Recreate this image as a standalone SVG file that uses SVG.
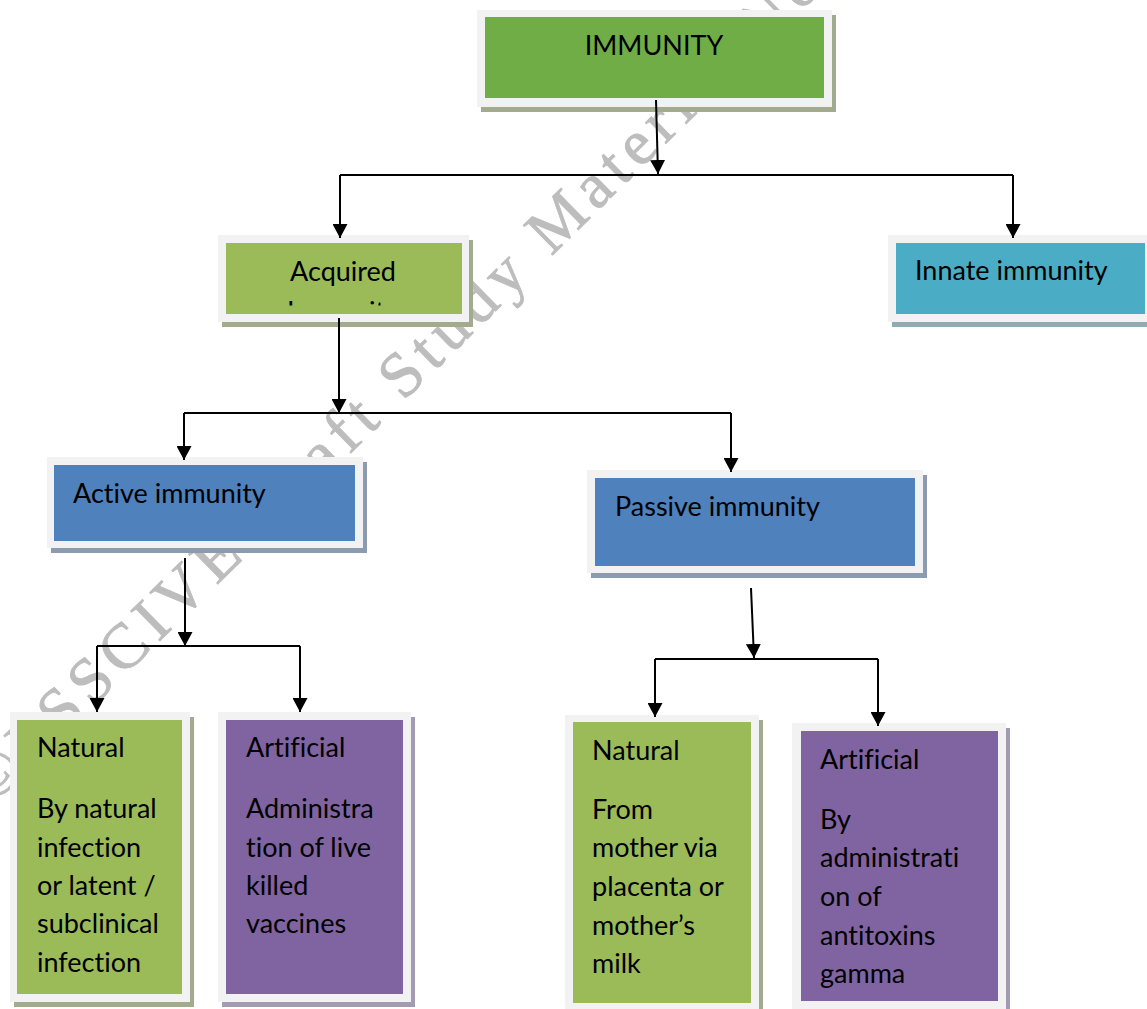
<svg xmlns="http://www.w3.org/2000/svg" width="1147" height="1009" viewBox="0 0 1147 1009">
<style>
.frame{fill:#f2f2f2}
.t{font-family:Lato,"Liberation Sans",sans-serif;font-size:27px;fill:#000;font-variant-ligatures:none}
.wm{font-family:"Liberation Serif",serif;font-size:64px;letter-spacing:7px;fill:#bdbdbd;stroke:#bdbdbd;stroke-width:0.9}
.c{fill:none;stroke:#000;stroke-width:2}
.sg{fill:#a2ab8e}
.sb{fill:#8d9bb0}
.st{fill:#8fabb4}
.sp{fill:#a29bb2}
</style>
<defs>
<marker id="ah" viewBox="0 0 14 15" refX="14" refY="7.5" markerWidth="14" markerHeight="15" markerUnits="userSpaceOnUse" orient="auto">
<path d="M0,0 L14,7.5 L0,15 z" fill="#000"/>
</marker>
<clipPath id="acqclip"><rect x="226" y="243" width="236" height="62.5"/></clipPath>
</defs>
<rect width="1147" height="1009" fill="#fff"/>
<text class="wm" transform="translate(-8,806) rotate(-44.5)">©PSSCIVE Draft Study Material Not to be Published</text>

<g id="immunity">
<rect class="sg" x="481" y="15" width="355" height="97"/>
<rect class="frame" x="477" y="10" width="355" height="97"/>
<rect x="485" y="17" width="339" height="81" fill="#70ad47"/>
<text class="t" x="654" y="55" text-anchor="middle">IMMUNITY</text>
</g>

<g id="acquired">
<rect class="sg" x="222" y="240" width="251" height="87"/>
<rect class="frame" x="218" y="235" width="251" height="87"/>
<rect x="226" y="243" width="236" height="71" fill="#9bbb59"/>
<text class="t" x="343" y="281" text-anchor="middle">Acquired</text>
<text class="t" x="343" y="321" text-anchor="middle" clip-path="url(#acqclip)">Immunity</text>
</g>

<g id="innate">
<rect class="st" x="892" y="240" width="260" height="87"/>
<rect class="frame" x="888" y="235" width="260" height="87"/>
<rect x="896" y="243" width="249" height="71" fill="#4bacc6"/>
<text class="t" x="915" y="280">Innate immunity</text>
</g>

<g id="active">
<rect class="sb" x="51" y="462" width="316" height="91"/>
<rect class="frame" x="47" y="457" width="316" height="91"/>
<rect x="54" y="465" width="301" height="76" fill="#4f81bd"/>
<text class="t" x="73" y="503">Active immunity</text>
</g>

<g id="passive">
<rect class="sb" x="591" y="475" width="336" height="103"/>
<rect class="frame" x="587" y="470" width="336" height="103"/>
<rect x="595" y="478" width="320" height="88" fill="#4f81bd"/>
<text class="t" x="615" y="516">Passive immunity</text>
</g>

<g id="natural-active">
<rect class="sg" x="14" y="717" width="180" height="290"/>
<rect class="frame" x="10" y="712" width="180" height="290"/>
<rect x="17" y="720" width="165" height="274" fill="#9bbb59"/>
<text class="t" x="37" y="757">Natural</text>
<text class="t" x="37" y="818">By natural</text>
<text class="t" x="37" y="857">infection</text>
<text class="t" x="37" y="895">or latent /</text>
<text class="t" x="37" y="933">subclinical</text>
<text class="t" x="37" y="972">infection</text>
</g>

<g id="artificial-active">
<rect class="sp" x="222" y="717" width="193" height="290"/>
<rect class="frame" x="218" y="712" width="193" height="290"/>
<rect x="226" y="720" width="177" height="274" fill="#8064a2"/>
<text class="t" x="246" y="757">Artificial</text>
<text class="t" x="246" y="818">Administra</text>
<text class="t" x="246" y="857">tion of live</text>
<text class="t" x="246" y="895">killed</text>
<text class="t" x="246" y="933">vaccines</text>
</g>

<g id="natural-passive">
<rect class="sg" x="569" y="720" width="194" height="300"/>
<rect class="frame" x="565" y="715" width="194" height="300"/>
<rect x="573" y="722" width="178" height="281" fill="#9bbb59"/>
<text class="t" x="592" y="760">Natural</text>
<text class="t" x="592" y="819">From</text>
<text class="t" x="592" y="857">mother via</text>
<text class="t" x="592" y="896">placenta or</text>
<text class="t" x="592" y="935">mother’s</text>
<text class="t" x="592" y="973">milk</text>
</g>

<g id="artificial-passive">
<rect class="sp" x="796" y="728" width="214" height="300"/>
<rect class="frame" x="792" y="723" width="214" height="300"/>
<rect x="801" y="731" width="197" height="270" fill="#8064a2"/>
<text class="t" x="820" y="769">Artificial</text>
<text class="t" x="820" y="829">By</text>
<text class="t" x="820" y="867">administrati</text>
<text class="t" x="820" y="906">on of</text>
<text class="t" x="820" y="945">antitoxins</text>
<text class="t" x="820" y="983">gamma</text>
</g>

<g id="connectors">
<path class="c" d="M656,100 L658,174" marker-end="url(#ah)"/>
<path class="c" d="M340,175 H1013"/>
<path class="c" d="M340,175 V238" marker-end="url(#ah)"/>
<path class="c" d="M1013,175 V238" marker-end="url(#ah)"/>
<path class="c" d="M339,318 V413" marker-end="url(#ah)"/>
<path class="c" d="M184,413 H731"/>
<path class="c" d="M184,413 V460" marker-end="url(#ah)"/>
<path class="c" d="M731,413 V472" marker-end="url(#ah)"/>
<path class="c" d="M185,558 V646" marker-end="url(#ah)"/>
<path class="c" d="M97,646 H300"/>
<path class="c" d="M97,646 V712" marker-end="url(#ah)"/>
<path class="c" d="M300,646 V712" marker-end="url(#ah)"/>
<path class="c" d="M751,588 L754,658" marker-end="url(#ah)"/>
<path class="c" d="M655,659 H878"/>
<path class="c" d="M655,659 V717" marker-end="url(#ah)"/>
<path class="c" d="M878,659 V726" marker-end="url(#ah)"/>
</g>
</svg>
